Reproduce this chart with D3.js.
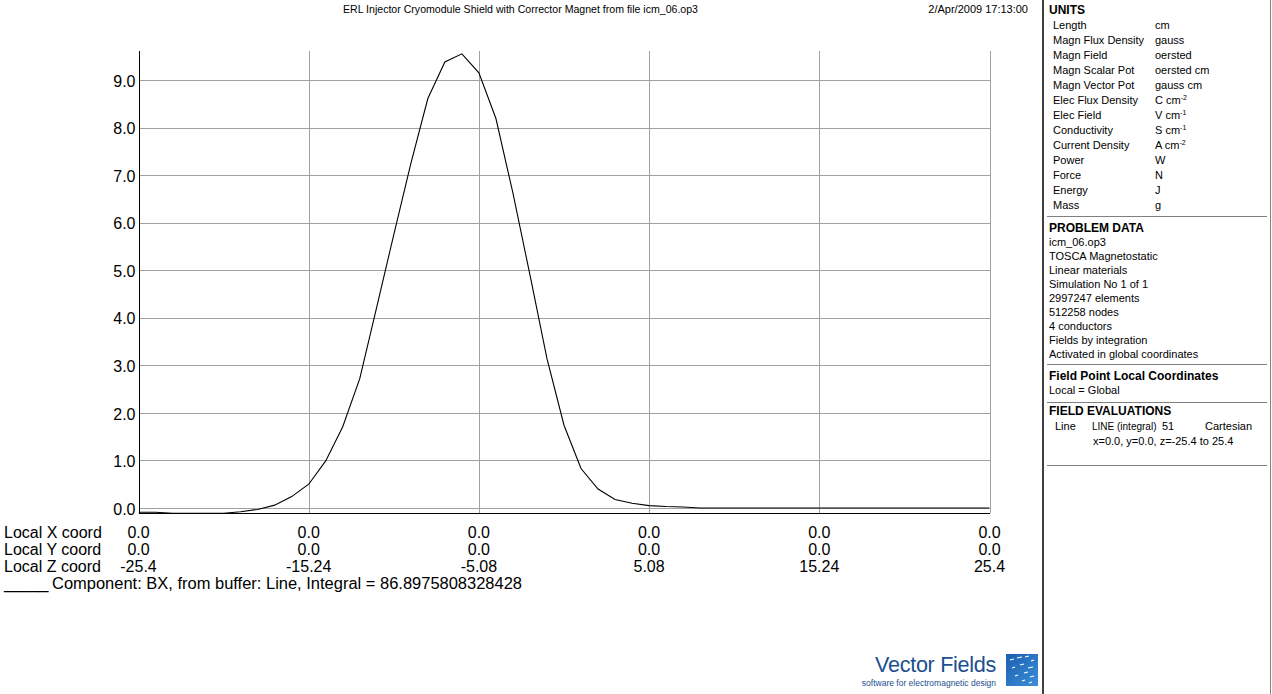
<!DOCTYPE html>
<html><head><meta charset="utf-8">
<script src="https://cdn.jsdelivr.net/npm/d3@7"></script>
<style>
html,body{margin:0;padding:0;background:#fff;}
svg{display:block;font-family:"Liberation Sans",Arial,sans-serif;}
</style></head>
<body>
<svg id="c" width="1272" height="694"></svg>
<script>
// ---- data ----
const zCoord = [-25.4,-24.384,-23.368,-22.352,-21.336,-20.32,-19.304,-18.288,-17.272,-16.256,
  -15.24,-14.224,-13.208,-12.192,-11.176,-10.16,-9.144,-8.128,-7.112,-6.096,
  -5.08,-4.064,-3.048,-2.032,-1.016,0,1.016,2.032,3.048,4.064,
  5.08,6.096,7.112,8.128,9.144,10.16,11.176,12.192,13.208,14.224,
  15.24,16.256,17.272,18.288,19.304,20.32,21.336,22.352,23.368,24.384,25.4];
const bxValues = [-0.09,-0.09,-0.11,-0.11,-0.11,-0.11,-0.08,-0.03,0.06,0.24,
  0.50,0.99,1.71,2.72,4.23,5.75,7.24,8.61,9.38,9.55,
  9.15,8.19,6.62,4.90,3.14,1.74,0.83,0.40,0.18,0.10,
  0.05,0.03,0.02,0,0,0,0,0,0,0,
  0,0,0,0,0,0,0,0,0,0,0];
const yTickValues = [0,1,2,3,4,5,6,7,8,9];
const zTickValues = [-25.4,-15.24,-5.08,5.08,15.24,25.4];
const zTickLabels = ["-25.4","-15.24","-5.08","5.08","15.24","25.4"];
const xLocalLabels = ["0.0","0.0","0.0","0.0","0.0","0.0"];
const yLocalLabels = ["0.0","0.0","0.0","0.0","0.0","0.0"];
const rowNames = ["Local X coord","Local Y coord","Local Z coord"];
const titleText = "ERL Injector Cryomodule Shield with Corrector Magnet from file icm_06.op3";
const dateText = "2/Apr/2009 17:13:00";
const legendText = "Component: BX, from buffer: Line, Integral = 86.8975808328428";
const unitNames = ["Length","Magn Flux Density","Magn Field","Magn Scalar Pot","Magn Vector Pot","Elec Flux Density","Elec Field","Conductivity","Current Density","Power","Force","Energy","Mass"];
const unitValues = [["cm"],["gauss"],["oersted"],["oersted cm"],["gauss cm"],["C cm","-2"],["V cm","-1"],["S cm","-1"],["A cm","-2"],["W"],["N"],["J"],["g"]];
const problemLines = ["icm_06.op3","TOSCA Magnetostatic","Linear materials","Simulation No 1 of 1","2997247 elements","512258 nodes","4 conductors","Fields by integration","Activated in global coordinates"];

// ---- layout ----
const svg = d3.select("#c");
const x = d3.scaleLinear().domain([-25.4,25.4]).range([138.5,989.5]);
const y = d3.scaleLinear().domain([0,9]).range([508,80]);
const yFloor = -0.1, yTop = 9.62;
const plotTop = y(yTop), plotBottom = y(yFloor);

// grid
const grid = svg.append("g").attr("shape-rendering","crispEdges");
grid.selectAll("line.h").data(yTickValues).join("line")
  .attr("x1",x(-25.4)).attr("x2",x(25.4))
  .attr("y1",d=>Math.round(y(d))+0.5).attr("y2",d=>Math.round(y(d))+0.5)
  .attr("stroke","#a0a0a0");
grid.selectAll("line.v").data(zTickValues.slice(1)).join("line")
  .attr("x1",d=>Math.round(x(d))+0.5).attr("x2",d=>Math.round(x(d))+0.5)
  .attr("y1",plotTop).attr("y2",plotBottom)
  .attr("stroke","#a0a0a0");

// y axis labels
const yAxis = d3.axisLeft(y).tickValues(yTickValues).tickFormat(d3.format(".1f")).tickSize(0).tickPadding(3);
const ya = svg.append("g").attr("transform",`translate(${x(-25.4)},1)`).call(yAxis);
ya.select(".domain").remove();
ya.selectAll("text").attr("font-size",16).attr("font-family","Liberation Sans, Arial, sans-serif").attr("fill","#000");

// clip
svg.append("clipPath").attr("id","clip").append("rect")
  .attr("x",x(-25.4)).attr("y",plotTop).attr("width",x(25.4)-x(-25.4)).attr("height",plotBottom-plotTop+1);

// curve
const line = d3.line().x((d,i)=>x(zCoord[i])).y(d=>y(d));
svg.append("path").datum(bxValues).attr("d",line)
  .attr("fill","none").attr("stroke","#000").attr("stroke-width",1.1)
  .attr("clip-path","url(#clip)");

// axes lines
const ax = svg.append("g").attr("shape-rendering","crispEdges");
ax.append("line").attr("x1",x(-25.4)).attr("x2",x(25.4)).attr("y1",Math.round(plotBottom)+0.5).attr("y2",Math.round(plotBottom)+0.5).attr("stroke","#000");
ax.append("line").attr("x1",Math.round(x(-25.4))+0.5).attr("x2",Math.round(x(-25.4))+0.5).attr("y1",plotTop).attr("y2",Math.round(plotBottom)+1).attr("stroke","#000");

// bottom coordinate table
const rowsY = [538,555,572];
const rowLabels = [xLocalLabels,yLocalLabels,zTickLabels];
rowNames.forEach((n,r)=>{
  svg.append("text").attr("x",4).attr("y",rowsY[r]).attr("font-size",16).text(n);
  svg.selectAll(null).data(zTickValues).join("text")
    .attr("x",d=>x(d)).attr("y",rowsY[r]).attr("text-anchor","middle").attr("font-size",16)
    .text((d,i)=>rowLabels[r][i]);
});
svg.append("text").attr("x",4).attr("y",589).attr("font-size",16).text("_____");
svg.append("text").attr("x",52).attr("y",589).attr("font-size",16)
  .attr("textLength",470).attr("lengthAdjust","spacingAndGlyphs").text(legendText);

// title & date
svg.append("text").attr("x",343).attr("y",13).attr("font-size",11)
  .attr("textLength",355).attr("lengthAdjust","spacingAndGlyphs").text(titleText);
svg.append("text").attr("x",1028).attr("y",13).attr("text-anchor","end").attr("font-size",11).text(dateText);

// right panel
const panel = svg.append("g");
panel.append("line").attr("x1",1043).attr("x2",1043).attr("y1",0).attr("y2",694).attr("stroke","#404040").attr("stroke-width",2);
panel.append("line").attr("x1",1270.5).attr("x2",1270.5).attr("y1",0).attr("y2",694).attr("stroke","#808080").attr("stroke-width",1);
[216,364,402,465].forEach(yy=>{
  panel.append("line").attr("x1",1047).attr("x2",1267).attr("y1",yy+0.5).attr("y2",yy+0.5).attr("stroke","#808080").attr("shape-rendering","crispEdges");
});
const bold = (t,xx,yy)=>panel.append("text").attr("x",xx).attr("y",yy).attr("font-size",12).attr("font-weight","bold").text(t);
const norm = (t,xx,yy)=>panel.append("text").attr("x",xx).attr("y",yy).attr("font-size",11).text(t);
bold("UNITS",1049,14);
unitNames.forEach((n,i)=>{
  const yy = 29 + i*15;
  norm(n,1053,yy);
  const t = panel.append("text").attr("x",1155).attr("y",yy).attr("font-size",11);
  t.append("tspan").text(unitValues[i][0]);
  if(unitValues[i][1]) t.append("tspan").attr("font-size",7).attr("dy",-4).text(unitValues[i][1]);
});
bold("PROBLEM DATA",1049,232);
problemLines.forEach((l,i)=>norm(l,1049,246+i*14));
bold("Field Point Local Coordinates",1049,380);
norm("Local = Global",1049,394);
bold("FIELD EVALUATIONS",1049,415);
norm("Line",1055,430);
norm("LINE (integral)",1092,430).attr("font-size",10);
norm("51",1162,430); norm("Cartesian",1205,430);
norm("x=0.0, y=0.0, z=-25.4 to 25.4",1093,445);

// logo
const logo = svg.append("g");
logo.append("text").attr("x",996).attr("y",672).attr("text-anchor","end").attr("font-size",21.6).attr("fill","#1c4f8f").attr("letter-spacing",-0.3).text("Vector Fields");
logo.append("text").attr("x",996).attr("y",686).attr("text-anchor","end").attr("font-size",8.5).attr("fill","#1c4f8f").text("software for electromagnetic design");
const defs = svg.append("defs");
const lg = defs.append("linearGradient").attr("id","lg").attr("x1","0").attr("y1","0").attr("x2","1").attr("y2","1");
lg.append("stop").attr("offset","0").attr("stop-color","#1a5fb0");
lg.append("stop").attr("offset","1").attr("stop-color","#3c8fd8");
logo.append("rect").attr("x",1006).attr("y",654).attr("width",32).attr("height",32).attr("fill","url(#lg)");
const dashes = [[1010,660,4],[1017,658,5],[1025,657,4],[1031,661,3],[1012,668,3],[1020,665,4],[1028,668,5],[1015,676,3],[1024,673,4],[1030,677,4],[1022,681,3],[1029,683,3]];
logo.selectAll("line.d").data(dashes).join("line")
  .attr("x1",d=>d[0]).attr("y1",d=>d[1]).attr("x2",d=>d[0]+d[2]).attr("y2",d=>d[1]-1)
  .attr("stroke","#fff").attr("stroke-width",1.2);
</script>
</body></html>
